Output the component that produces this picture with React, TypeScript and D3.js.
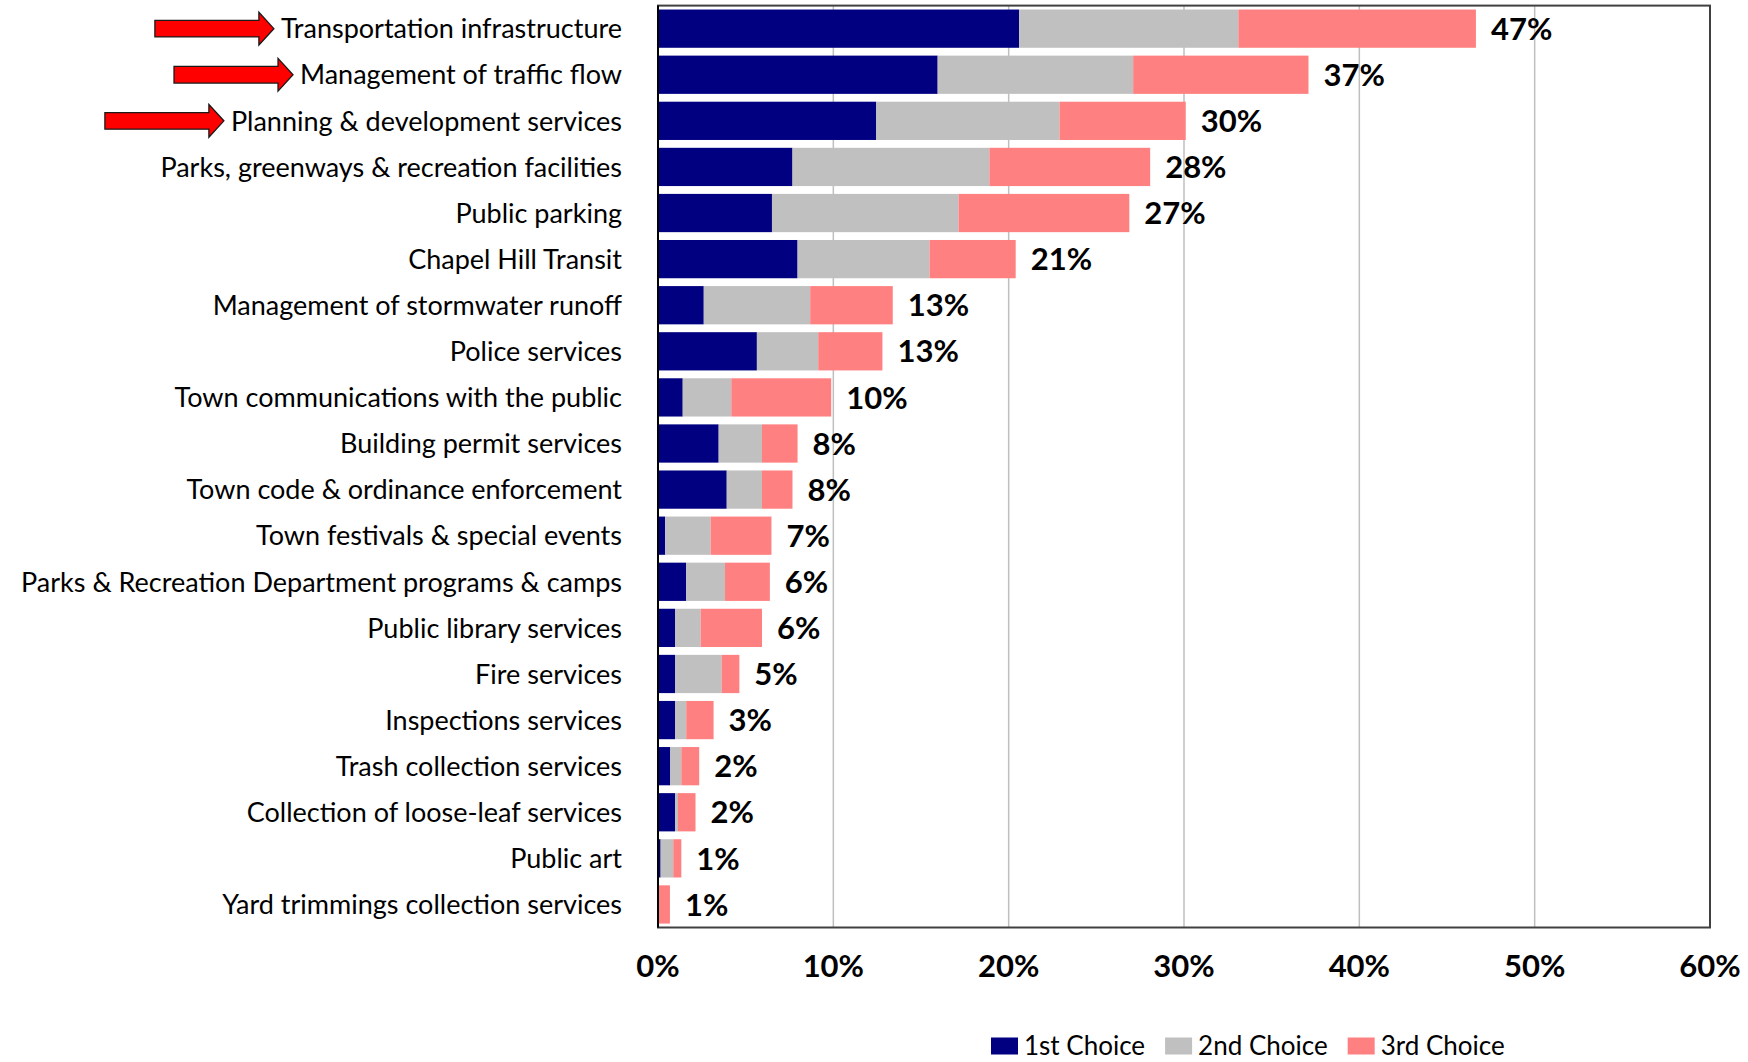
import React, { useEffect, useRef } from "react";
import * as d3 from "d3";

// ---- Data ----
const categories = [
  "Transportation infrastructure",
  "Management of traffic flow",
  "Planning & development services",
  "Parks, greenways & recreation facilities",
  "Public parking",
  "Chapel Hill Transit",
  "Management of stormwater runoff",
  "Police services",
  "Town communications with the public",
  "Building permit services",
  "Town code & ordinance enforcement",
  "Town festivals & special events",
  "Parks & Recreation Department programs & camps",
  "Public library services",
  "Fire services",
  "Inspections services",
  "Trash collection services",
  "Collection of loose-leaf services",
  "Public art",
  "Yard trimmings collection services",
];
const firstChoice = [20.6, 15.95, 12.45, 7.67, 6.5, 7.96, 2.61, 5.64, 1.41, 3.46, 3.92, 0.41, 1.61, 0.97, 0.97, 0.97, 0.7, 0.97, 0.15, 0];
const secondChoice = [12.5, 11.15, 10.45, 11.23, 10.64, 7.53, 6.07, 3.5, 2.77, 2.47, 2.01, 2.59, 2.21, 1.46, 2.66, 0.64, 0.63, 0.17, 0.72, 0];
const thirdChoice = [13.55, 10.0, 7.2, 9.17, 9.74, 4.91, 4.71, 3.66, 5.7, 2.03, 1.74, 3.47, 2.56, 3.5, 1.01, 1.56, 1.02, 1.0, 0.46, 0.68];
const totalLabels = ["47%", "37%", "30%", "28%", "27%", "21%", "13%", "13%", "10%", "8%", "8%", "7%", "6%", "6%", "5%", "3%", "2%", "2%", "1%", "1%"];
const highlighted = ["Transportation infrastructure", "Management of traffic flow", "Planning & development services"];
const seriesNames = ["1st Choice", "2nd Choice", "3rd Choice"];
const xTicks = [0, 10, 20, 30, 40, 50, 60];

const COLORS = ["#000080", "#C0C0C0", "#FF8080"];
const FONT = "Lato, 'Open Sans', sans-serif";

export default function App() {
  const ref = useRef<SVGSVGElement | null>(null);

  useEffect(() => {
    const svg = d3.select(ref.current);
    svg.selectAll("*").remove();

    const W = 1748, H = 1062;
    const left = 658, right = 1710, top = 5.6, bottom = 927.5;

    svg.append("rect").attr("width", W).attr("height", H).attr("fill", "#fff");

    const x = d3.scaleLinear().domain([0, 60]).range([left, right]);
    const y = d3.scaleBand<string>().domain(categories).range([top, bottom]).paddingInner(0.17).paddingOuter(0.085);

    // gridlines
    svg.append("g").selectAll("line").data(xTicks.filter((t) => t > 0 && t < 60)).join("line")
      .attr("x1", (d) => x(d)).attr("x2", (d) => x(d))
      .attr("y1", top).attr("y2", bottom)
      .attr("stroke", "#BFBFBF").attr("stroke-width", 1.5);

    // stacked bars
    const stackData = categories.map((c, i) => ({ c, s0: firstChoice[i], s1: secondChoice[i], s2: thirdChoice[i] }));
    const stack = d3.stack<any>().keys(["s0", "s1", "s2"]);
    const series = stack(stackData);
    const gBars = svg.append("g");
    series.forEach((s, si) => {
      gBars.append("g").attr("fill", COLORS[si]).selectAll("rect").data(s).join("rect")
        .attr("x", (d) => x(d[0]))
        .attr("width", (d) => Math.max(0, x(d[1]) - x(d[0])))
        .attr("y", (d) => y((d.data as any).c)!)
        .attr("height", y.bandwidth());
    });

    // total labels
    const totals = categories.map((c, i) => firstChoice[i] + secondChoice[i] + thirdChoice[i]);
    svg.append("g").selectAll("text").data(categories).join("text")
      .attr("x", (d, i) => x(totals[i]) + 15)
      .attr("y", (d) => y(d)! + y.bandwidth() / 2)
      .attr("dy", "0.36em")
      .attr("font-family", FONT).attr("font-weight", 700).attr("font-size", 31)
      .attr("fill", "#000")
      .text((d, i) => totalLabels[i]);

    // plot frame
    svg.append("rect").attr("x", left).attr("y", top).attr("width", right - left).attr("height", bottom - top)
      .attr("fill", "none").attr("stroke", "#404040").attr("stroke-width", 2);
    svg.append("line").attr("x1", left).attr("x2", left).attr("y1", top).attr("y2", bottom)
      .attr("stroke", "#000").attr("stroke-width", 2);

    // x tick labels
    svg.append("g").selectAll("text").data(xTicks).join("text")
      .attr("x", (d) => x(d)).attr("y", 965.5).attr("dy", "0.36em")
      .attr("text-anchor", "middle")
      .attr("font-family", FONT).attr("font-weight", 700).attr("font-size", 31)
      .attr("fill", "#000")
      .text((d) => `${d}%`);

    // category labels
    const labelRight = 622;
    const labels = svg.append("g").selectAll("text").data(categories).join("text")
      .attr("x", labelRight)
      .attr("y", (d) => y(d)! + y.bandwidth() / 2)
      .attr("dy", "0.36em")
      .attr("text-anchor", "end")
      .attr("font-family", FONT).attr("font-size", 27)
      .attr("fill", "#000")
      .text((d) => d);

    // arrows pointing at highlighted labels
    const arrowLen = 119, headLen = 15, shaftH = 8.3, headH = 16.4, gap = 7;
    labels.each(function (d) {
      if (!highlighted.includes(d)) return;
      const t = this as SVGTextElement;
      const w = t.getComputedTextLength();
      const tipX = labelRight - w - gap;
      const cy = y(d)! + y.bandwidth() / 2;
      const x0 = tipX - arrowLen;
      const hx = tipX - headLen;
      const pts: [number, number][] = [
        [x0, cy - shaftH], [hx, cy - shaftH], [hx, cy - headH], [tipX, cy],
        [hx, cy + headH], [hx, cy + shaftH], [x0, cy + shaftH],
      ];
      svg.append("path")
        .attr("d", d3.line()(pts) + "Z")
        .attr("fill", "#FF0000").attr("stroke", "#1a1a1a").attr("stroke-width", 1.3)
        .attr("stroke-linejoin", "miter");
    });

    // legend
    const legend = svg.append("g");
    const legendY = 1046;
    let lx = 991;
    seriesNames.forEach((name, i) => {
      legend.append("rect").attr("x", lx).attr("y", legendY - 8.5).attr("width", 27).attr("height", 17).attr("fill", COLORS[i]);
      const txt = legend.append("text").attr("x", lx + 33).attr("y", legendY).attr("dy", "0.35em")
        .attr("font-family", FONT).attr("font-size", 26).attr("fill", "#000").text(name);
      const tw = (txt.node() as SVGTextElement).getComputedTextLength();
      lx = lx + 33 + tw + 20;
    });
  }, []);

  return (
    <svg
      ref={ref}
      width={1748}
      height={1062}
      style={{ position: "absolute", left: 0, top: 0, display: "block" }}
    />
  );
}
